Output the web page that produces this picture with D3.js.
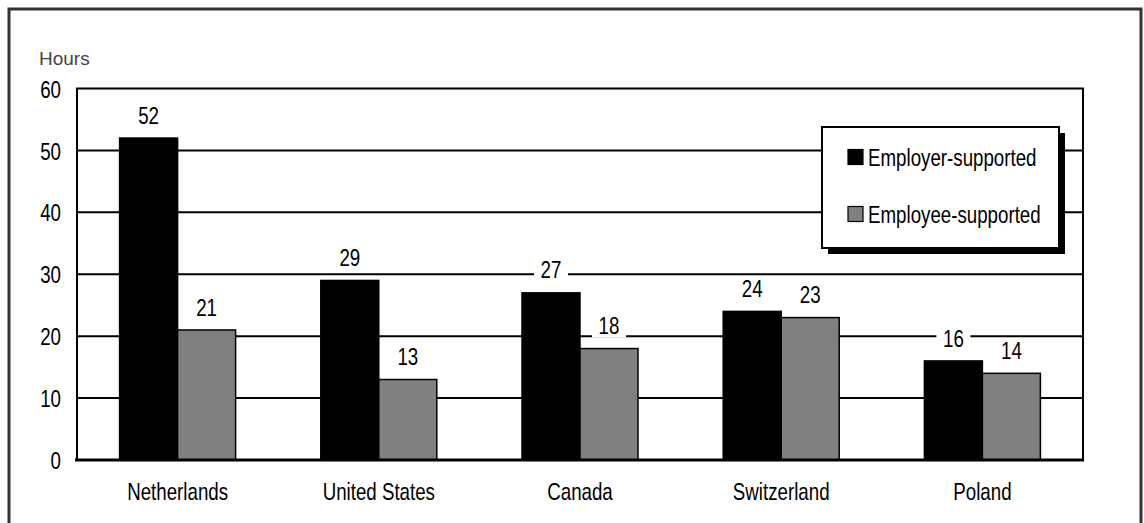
<!DOCTYPE html>
<html>
<head>
<meta charset="utf-8">
<script src="https://cdn.jsdelivr.net/npm/d3@7"></script>
<style>
  html, body { margin: 0; padding: 0; background: #fff; }
  svg { display: block; }
  .narrow { font-family: "Liberation Sans", Arial, sans-serif; }
</style>
</head>
<body>
<svg id="chart" width="1144" height="523"></svg>
<script>
const categories = ["Netherlands", "United States", "Canada", "Switzerland", "Poland"];
const seriesNames = ["Employer-supported", "Employee-supported"];
const employerSupported = [52, 29, 27, 24, 16];
const employeeSupported = [21, 13, 18, 23, 14];
const yTicks = [0, 10, 20, 30, 40, 50, 60];
const yAxisTitle = "Hours";

const colors = { "Employer-supported": "#000000", "Employee-supported": "#808080" };
const seriesValues = { "Employer-supported": employerSupported, "Employee-supported": employeeSupported };
const SX = 0.78; // horizontal condensing of text
const FS = 24;

const svg = d3.select("#chart");
const plot = { left: 77, right: 1083, top: 88.5, bottom: 460 };

// outer frame
svg.append("rect")
  .attr("x", 9).attr("y", 9).attr("width", 1132).attr("height", 530)
  .attr("fill", "none").attr("stroke", "#333").attr("stroke-width", 3);

const y = d3.scaleLinear().domain([0, 60]).range([plot.bottom, plot.top]);
const x0 = d3.scaleBand().domain(categories).range([plot.left, plot.right])
  .paddingInner(0.4235).paddingOuter(0.4235 / 2);
const x1 = d3.scaleBand().domain(seriesNames).range([0, x0.bandwidth()]).padding(0);

// gridlines
svg.append("g").selectAll("line")
  .data(yTicks.filter(t => t > 0 && t < 60))
  .join("line")
  .attr("x1", plot.left).attr("x2", plot.right)
  .attr("y1", d => y(d)).attr("y2", d => y(d))
  .attr("stroke", "#000").attr("stroke-width", 2);

// plot frame (top, left, right)
svg.append("path")
  .attr("d", `M${plot.left},${plot.bottom} V${plot.top} H${plot.right} V${plot.bottom}`)
  .attr("fill", "none").attr("stroke", "#000").attr("stroke-width", 2);

// y-axis tick labels
const yAxis = d3.axisLeft(y).tickValues(yTicks).tickSize(0).tickPadding(0).tickFormat(d3.format("d"));
const yg = svg.append("g").attr("transform", `translate(61,0)`).call(yAxis);
yg.select(".domain").remove();
yg.selectAll("text")
  .attr("class", "narrow")
  .attr("x", 0)
  .attr("font-size", FS).attr("fill", "#000")
  .attr("dy", "0.36em")
  .attr("transform", `scale(${SX},1)`);

// axis title
svg.append("text")
  .attr("x", 39).attr("y", 65)
  .attr("font-family", "Liberation Sans, Arial, sans-serif")
  .attr("font-size", 19).attr("fill", "#444")
  .text(yAxisTitle);

// bars
const barData = [];
categories.forEach((c, i) => {
  seriesNames.forEach(s => barData.push({ cat: c, series: s, value: seriesValues[s][i] }));
});

svg.append("g").selectAll("rect")
  .data(barData)
  .join("rect")
  .attr("x", d => x0(d.cat) + x1(d.series))
  .attr("y", d => y(d.value))
  .attr("width", x1.bandwidth())
  .attr("height", d => y(0) - y(d.value))
  .attr("fill", d => colors[d.series])
  .attr("stroke", "#000").attr("stroke-width", 1.5);

// value labels with white background
const lbl = svg.append("g").selectAll("g")
  .data(barData)
  .join("g")
  .attr("transform", d => `translate(${x0(d.cat) + x1(d.series) + x1.bandwidth() / 2},${y(d.value) - 23})`);
lbl.append("rect")
  .attr("x", -17).attr("y", -12).attr("width", 34).attr("height", 24)
  .attr("fill", "#fff");
lbl.append("text")
  .attr("class", "narrow")
  .attr("text-anchor", "middle").attr("dy", "0.36em")
  .attr("font-size", FS).attr("fill", "#000")
  .attr("transform", `scale(${SX},1)`)
  .text(d => d.value);

// bottom axis
svg.append("line")
  .attr("x1", plot.left - 2).attr("x2", plot.right + 1)
  .attr("y1", plot.bottom).attr("y2", plot.bottom)
  .attr("stroke", "#000").attr("stroke-width", 3);

const xAxis = d3.axisBottom(x0).tickSize(0).tickPadding(0);
const xg = svg.append("g").attr("transform", `translate(0,${plot.bottom + 31})`).call(xAxis);
xg.select(".domain").remove();
xg.selectAll("text")
  .attr("class", "narrow")
  .attr("font-size", FS).attr("fill", "#000")
  .attr("dy", "0.36em").attr("y", 0).attr("x", 0)
  .attr("transform", `scale(${SX},1)`);

// legend
const lg = svg.append("g").attr("transform", "translate(822,127)");
lg.append("rect").attr("x", 6).attr("y", 6).attr("width", 237).attr("height", 121).attr("fill", "#000");
lg.append("rect").attr("x", 0).attr("y", 0).attr("width", 237).attr("height", 121)
  .attr("fill", "#fff").attr("stroke", "#000").attr("stroke-width", 2);
const items = lg.selectAll("g.item")
  .data(seriesNames)
  .join("g").attr("class", "item")
  .attr("transform", (d, i) => `translate(26,${30 + i * 57})`);
items.append("rect")
  .attr("x", 0).attr("y", -7.5).attr("width", 15).attr("height", 15)
  .attr("fill", d => colors[d]).attr("stroke", "#000").attr("stroke-width", 1.2);
items.append("text")
  .attr("class", "narrow")
  .attr("dy", "0.36em")
  .attr("font-size", FS).attr("fill", "#000")
  .attr("transform", `translate(20,0) scale(${SX},1)`)
  .text(d => d);
</script>
</body>
</html>
